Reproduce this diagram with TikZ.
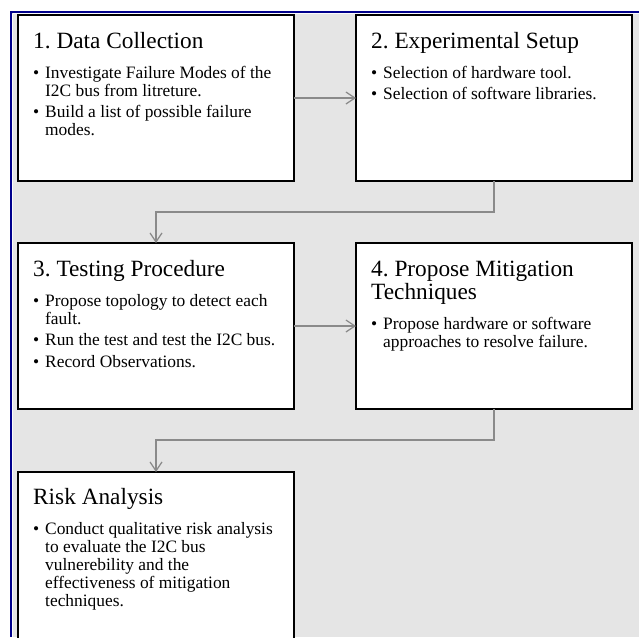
\documentclass[tikz,border=0pt]{standalone}
\usepackage{fontspec}
\setmainfont{Liberation Serif}
\usetikzlibrary{arrows.meta}
\frenchspacing

\definecolor{panelbg}{RGB}{229,229,229}
\definecolor{framenavy}{RGB}{0,0,140}
\definecolor{linkgray}{RGB}{138,138,138}

% body text of a stage: bulleted paragraphs with a hanging indent
\newcommand\stagebody[1]{%
  \begin{minipage}[t]{255pt}%
    \fontsize{17.4}{18.1}\selectfont
    \setlength\parindent{0pt}\setlength\parskip{3.4pt}%
    #1%
  \end{minipage}}
\newcommand\bul{\par\hangindent=12pt\hangafter=1\noindent\makebox[12pt][l]{\textbullet}}

\tikzset{
  x={(1pt,0)}, y={(0,-1pt)},
  stagebox/.style={draw=black, line width=1.5pt, fill=white, rectangle,
    minimum width=276pt, minimum height=166pt, anchor=north west,
    inner sep=0pt, outer sep=0pt},
  heading/.style={anchor=base west, inner sep=0pt, align=left,
    font=\fontsize{23.3}{23}\selectfont},
  bodytext/.style={anchor=base west, inner sep=0pt},
  link/.style={draw=linkgray, line width=1.4pt,
    -{Straight Barb[length=9pt,width=12pt,line width=1.2pt]}},
}

\begin{document}
\begin{tikzpicture}
\useasboundingbox (0,0) rectangle (639,637);
\clip (0,0) rectangle (639,637);

% page and framed panel
\fill[white] (0,0) rectangle (639,637);
\fill[panelbg] (11,12) rectangle (639,637);
\draw[framenavy, line width=2pt] (10,12) -- (639,12);
\draw[framenavy, line width=2pt] (11,11) -- (11,637);
\draw[white!85!panelbg, line width=0.8pt] (12.6,13.6) -- (639,13.6);
\draw[white!85!panelbg, line width=0.8pt] (12.6,13.6) -- (12.6,637);

% stage boxes
\node[stagebox] (b1) at (18,15) {};
\node[stagebox] (b2) at (356,15) {};
\node[stagebox] (b3) at (18,243) {};
\node[stagebox] (b4) at (356,243) {};
\node[stagebox, minimum height=200pt] (b5) at (18,472) {};

% connectors
\draw[link] (b1) -- (b2);
\draw[link] (b2.south) -- ++(0,31) -| (b3.north);
\draw[link] (b3) -- (b4);
\draw[link] (b4.south) -- ++(0,31) -| (b5.north);

% stage 1
\node[heading] (t1) at ([shift={(15,33)}]b1.north west) {1. Data Collection};
\node[bodytext] (x1) at ([shift={(0,30)}]t1.base west) {\stagebody{%
  \bul Investigate Failure Modes of the\\I2C bus from litreture.
  \bul Build a list of possible failure\\modes.}};

% stage 2
\node[heading] (t2) at ([shift={(15,33)}]b2.north west) {2. Experimental Setup};
\node[bodytext] (x2) at ([shift={(0,30)}]t2.base west) {\stagebody{%
  \bul Selection of hardware tool.
  \bul Selection of software libraries.}};

% stage 3
\node[heading] (t3) at ([shift={(15,33)}]b3.north west) {3. Testing Procedure};
\node[bodytext] (x3) at ([shift={(0,30)}]t3.base west) {\stagebody{%
  \bul Propose topology to detect each\\fault.
  \bul Run the test and test the I2C bus.
  \bul Record Observations.}};

% stage 4
\node[heading] (t4) at ([shift={(15,33)}]b4.north west) {4. Propose Mitigation};
\node[heading] (t4b) at ([shift={(0,23)}]t4.base west) {Techniques};
\node[bodytext] (x4) at ([shift={(0,30)}]t4b.base west) {\stagebody{%
  \bul Propose hardware or software\\approaches to resolve failure.}};

% stage 5
\node[heading] (t5) at ([shift={(15,32)}]b5.north west) {Risk Analysis};
\node[bodytext] (x5) at ([shift={(0,30)}]t5.base west) {\stagebody{%
  \bul Conduct qualitative risk analysis\\to evaluate the I2C bus\\vulnerebility and the\\effectiveness of mitigation\\techniques.}};
\end{tikzpicture}
\end{document}
